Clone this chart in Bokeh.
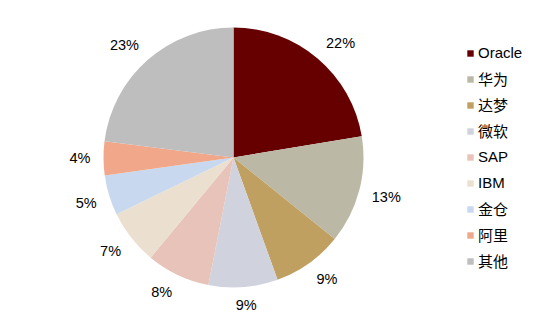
import math
from bokeh.plotting import figure
from bokeh.models import ColumnDataSource, Range1d, Legend, LegendItem
from bokeh.core.properties import value
from bokeh.embed import file_html
from bokeh.resources import INLINE

categories = ["Oracle", "华为", "达梦", "微软", "SAP", "IBM", "金仓", "阿里", "其他"]
shares = [22.4, 13.4, 8.7, 8.6, 7.9, 6.8, 5.0, 4.2, 23.0]
colors = ["#660000", "#BBB9A6", "#C0A061", "#D0D3DE", "#E8C3B9",
          "#EBE0D0", "#C8D9EF", "#F0A78A", "#BEBEBE"]

W, H = 538, 325
cx, cy = 233, H - 157
R = 130
LR = 143
FS = 14.5


def clamp(v):
    return max(-1.0, min(1.0, v))


total = sum(shares)
starts, ends, lx, ly, ltxt = [], [], [], [], []
cum = 0.0
for v in shares:
    a0 = math.pi / 2 - 2 * math.pi * cum / total
    cum += v
    a1 = math.pi / 2 - 2 * math.pi * cum / total
    starts.append(a0)
    ends.append(a1)
    mid = (a0 + a1) / 2
    c, s = math.cos(mid), math.sin(mid)
    t = f"{round(v)}%"
    w = 0.556 * FS * (len(t) - 1) + 0.889 * FS
    lx.append(cx + LR * c + (w / 2) * clamp(2.5 * c))
    ly.append(cy + LR * s + 5 * clamp(2.5 * s))
    ltxt.append(t)

src = ColumnDataSource(dict(cat=categories, start=starts, end=ends, color=colors))
lsrc = ColumnDataSource(dict(x=lx, y=ly, t=ltxt))

p = figure(width=W, height=H, output_backend="svg", toolbar_location=None,
           x_range=Range1d(0, W), y_range=Range1d(0, H),
           min_border=0, min_border_left=0, min_border_right=0,
           min_border_top=0, min_border_bottom=0)
p.axis.visible = False
p.grid.visible = False
p.outline_line_color = None
p.background_fill_color = "white"

r = p.wedge(x=cx, y=cy, radius=R, start_angle="start", end_angle="end",
            direction="clock", fill_color="color", line_color=None, source=src)

p.text(x="x", y="y", text="t", text_align="center", text_baseline="middle",
       text_font=value("Liberation Sans"), text_font_size=f"{FS}px",
       text_color="#000000", source=lsrc)

items = [LegendItem(label=c, renderers=[r], index=i) for i, c in enumerate(categories)]
legend = Legend(items=items, location=(466, 53), orientation="vertical",
                glyph_width=8, glyph_height=8, label_standoff=4,
                label_height=23, spacing=3, padding=0, margin=0,
                border_line_color=None, background_fill_alpha=0,
                label_text_font="Liberation Sans, 'Noto Sans CJK SC'",
                label_text_font_size="15px", label_text_color="#000000")
p.add_layout(legend)

open("out.html", "w").write(file_html(p, INLINE))
